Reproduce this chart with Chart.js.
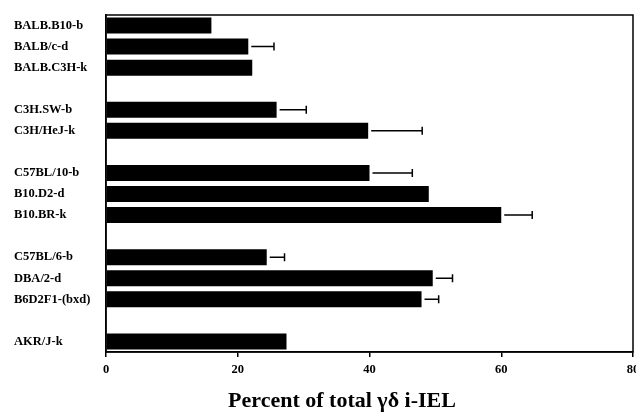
<!DOCTYPE html>
<html>
<head>
<meta charset="utf-8">
<script src="https://cdn.jsdelivr.net/npm/chart.js@4"></script>
<style>
  html, body { margin: 0; padding: 0; background: #fff; }
  #wrap { width: 636px; height: 413px; }
</style>
</head>
<body>
<div id="wrap"><canvas id="strainChart"></canvas></div>
<script>
// strains, with empty slots separating the groups
const strains = ['BALB.B10-b', 'BALB/c-d', 'BALB.C3H-k', '',
                 'C3H.SW-b', 'C3H/HeJ-k', '',
                 'C57BL/10-b', 'B10.D2-d', 'B10.BR-k', '',
                 'C57BL/6-b', 'DBA/2-d', 'B6D2F1-(bxd)', '',
                 'AKR/J-k'];
const percentGD = [16, 21.6, 22.2, null, 25.9, 39.8, null, 40, 49, 60, null, 24.4, 49.6, 47.9, null, 27.4];
// upper end of error bar (null = none shown)
const errorTop = [null, 25.5, null, null, 30.4, 48, null, 46.5, null, 64.7, null, 27.1, 52.6, 50.5, null, null];
const xTicks = [0, 20, 40, 60, 80];

const serif = '"Liberation Serif", "DejaVu Serif", serif';

// error bars + frame + axis title
const extras = {
    id: 'extras',
    afterDatasetsDraw(chart) {
        const ctx = chart.ctx;
        const xs = chart.scales.x, ys = chart.scales.y;
        ctx.save();
        ctx.strokeStyle = '#000';
        ctx.lineWidth = 1.5;
        errorTop.forEach((e, i) => {
            if (e == null) return;
            const y = ys.getPixelForValue(i);
            const x0 = xs.getPixelForValue(percentGD[i]) + 3;
            const x1 = xs.getPixelForValue(e);
            ctx.beginPath();
            ctx.moveTo(x0, y); ctx.lineTo(x1, y);
            ctx.moveTo(x1, y - 4); ctx.lineTo(x1, y + 4);
            ctx.stroke();
        });
        const a = chart.chartArea;
        ctx.strokeRect(a.left, a.top, a.right - a.left, a.bottom - a.top);
        ctx.fillStyle = '#000';
        ctx.font = 'bold 22px ' + serif;
        ctx.textAlign = 'center';
        ctx.textBaseline = 'middle';
        ctx.fillText('Percent of total \u03b3\u03b4 i-IEL', 342, 401);
        ctx.restore();
    }
};

new Chart(document.getElementById('strainChart').getContext('2d'), {
    type: 'bar',
    data: {
        labels: strains,
        datasets: [{
            data: percentGD,
            backgroundColor: '#000',
            borderWidth: 0,
            categoryPercentage: 1,
            barPercentage: 0.76
        }]
    },
    options: {
        indexAxis: 'y',
        responsive: true,
        maintainAspectRatio: false,
        animation: false,
        layout: { padding: { left: 14, top: 15, right: 3, bottom: 0 } },
        plugins: { legend: { display: false }, tooltip: { enabled: false } },
        scales: {
            x: {
                min: 0, max: 80,
                afterBuildTicks: s => { s.ticks = xTicks.map(v => ({ value: v })); },
                afterFit: s => { s.height = 61; s.paddingLeft = 0; s.paddingRight = 0; },
                grid: { drawOnChartArea: false, tickLength: 5, color: '#000', lineWidth: 1.5 },
                border: { color: '#000', width: 1.5 },
                ticks: { color: '#000', font: { family: serif, size: 12.5, weight: 'bold' }, padding: 5, maxRotation: 0 }
            },
            y: {
                afterFit: s => { s.width = 92; },
                grid: { display: false },
                border: { color: '#000', width: 1.5 },
                ticks: { color: '#000', crossAlign: 'far', autoSkip: false, font: { family: serif, size: 12.5, weight: 'bold' } }
            }
        }
    },
    plugins: [extras]
});
</script>
</body>
</html>
